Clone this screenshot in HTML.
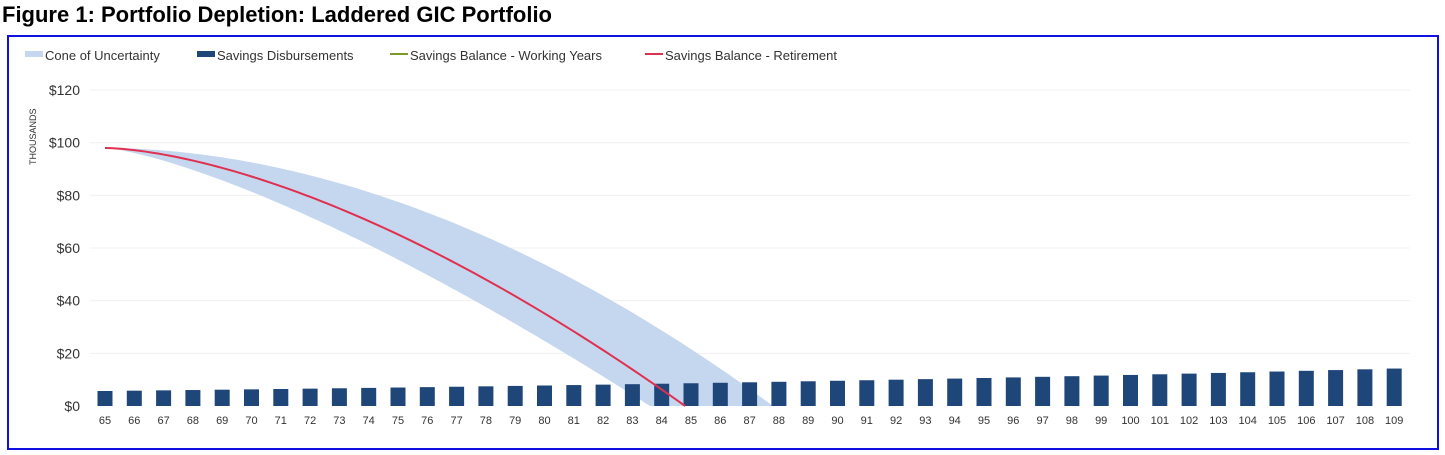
<!DOCTYPE html>
<html><head><meta charset="utf-8"><style>
body{margin:0;background:#fff;width:1445px;height:455px;overflow:hidden;font-family:"Liberation Sans",sans-serif}
#t{position:absolute;left:2px;top:2px;font-size:22px;font-weight:bold;color:#000;font-family:"Liberation Sans",sans-serif}
#box{position:absolute;left:7px;top:35px;width:1428px;height:411px;border:2px solid #1010e0}
svg{position:absolute;left:0;top:0}
</style></head><body>
<div id="t">Figure 1: Portfolio Depletion: Laddered GIC Portfolio</div>
<div id="box"></div>
<svg id="s" width="1445" height="455" font-family="Liberation Sans, sans-serif"></svg>
<script>
const s=document.getElementById('s');let h='';
const X=a=>105+(a-65)*29.3, Y=v=>406-v*2.633;
h+=`<rect x="25" y="51" width="18" height="6" fill="#c5d7ef"/><text x="45" y="60" font-size="13" fill="#333">Cone of Uncertainty</text>`;
h+=`<rect x="197" y="51" width="18" height="6" fill="#1f4679"/><text x="217" y="60" font-size="13" fill="#333">Savings Disbursements</text>`;
h+=`<rect x="390" y="53" width="18" height="2" fill="#7a9a2a"/><text x="410" y="60" font-size="13" fill="#333">Savings Balance - Working Years</text>`;
h+=`<rect x="645" y="53" width="18" height="2" fill="#e0304f"/><text x="665" y="60" font-size="13" fill="#333">Savings Balance - Retirement</text>`;
for(let v=0;v<=120;v+=20){const y=Y(v);if(v>0)h+=`<line x1="90" x2="1410" y1="${y}" y2="${y}" stroke="#f0f0f0"/>`;
h+=`<text x="80" y="${y+5}" font-size="14" fill="#333" text-anchor="end">$${v}</text>`;}
h+=`<text transform="translate(36,165) rotate(-90)" font-size="9" fill="#333">THOUSANDS</text>`;
let up=[],lo=[];
const f=(t,T,p)=>Math.max(0,98*(1-Math.pow(Math.min(t,T)/T,p)));
for(let t=0;t<=22.8;t+=0.2){up.push([X(65+t),Y(f(t,22.8,1.9))]);}
up.push([X(87.8),Y(0)]);
for(let t=18.6;t>=0;t-=0.2){lo.push([X(65+t),Y(f(t,18.6,1.35))]);}
lo.push([X(65),Y(98)]);
h+=`<polygon fill="#c5d7ef" points="${up.concat(lo).map(p=>p.join(',')).join(' ')}"/>`;
for(let a=65;a<=109;a++){const v=5.7*Math.pow(1.021,a-65);h+=`<rect x="${X(a)-7.5}" y="${Y(v)}" width="15" height="${v*2.633}" fill="#1f4679"/>`;
h+=`<text x="${X(a)}" y="424" font-size="11" fill="#333" text-anchor="middle">${a}</text>`;}
let r=[];for(let t=0;t<=19.801;t+=0.2){r.push([X(65+t),Y(f(t,19.8,1.6))].join(','));}
h+=`<polyline fill="none" stroke="#e0304f" stroke-width="2" points="${r.join(' ')}"/>`;
s.innerHTML=h;
</script>
</body></html>
